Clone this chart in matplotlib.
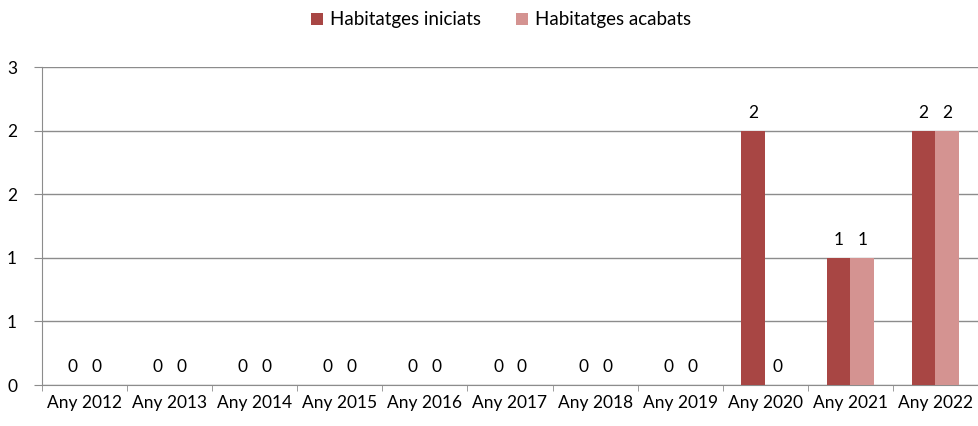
import matplotlib
matplotlib.use("Agg")
import matplotlib.pyplot as plt
import numpy as np
from matplotlib.ticker import FuncFormatter

plt.rcParams['font.family'] = ['Lato', 'DejaVu Sans']

# Data
years = ['Any 2012', 'Any 2013', 'Any 2014', 'Any 2015', 'Any 2016', 'Any 2017',
         'Any 2018', 'Any 2019', 'Any 2020', 'Any 2021', 'Any 2022']
iniciats = [0, 0, 0, 0, 0, 0, 0, 0, 2, 1, 2]
acabats = [0, 0, 0, 0, 0, 0, 0, 0, 0, 1, 2]
series_names = ['Habitatges iniciats', 'Habitatges acabats']
colors = ['#A84644', '#D49391']

x = np.arange(len(years))
width = 0.28
fs = 12.5

fig = plt.figure(figsize=(9.79, 4.26), dpi=100)
ax = fig.add_axes([42 / 979, 1 - 385 / 426, (978 - 42) / 979, (385 - 67) / 426])

b1 = ax.bar(x - width / 2, iniciats, width, color=colors[0], label=series_names[0], zorder=3)
b2 = ax.bar(x + width / 2, acabats, width, color=colors[1], label=series_names[1], zorder=3)

for bars in (b1, b2):
    for rect in bars:
        h = rect.get_height()
        ax.annotate(f'{h:.0f}', (rect.get_x() + rect.get_width() / 2, h),
                    xytext=(0, 7), textcoords='offset points',
                    ha='center', va='bottom', fontsize=fs)

ax.set_xlim(-0.5, len(years) - 0.5)
ax.set_ylim(0, 2.5)
ax.set_yticks([0, 0.5, 1, 1.5, 2, 2.5])
# Excel-style rounding of the tick labels
ax.yaxis.set_major_formatter(FuncFormatter(lambda v, p: f'{int(np.floor(v + 0.5))}'))
ax.grid(axis='y', color='#8c8c8c', linewidth=1, zorder=0)

ax.set_xticks(x)
ax.set_xticklabels(years, fontsize=fs)
ax.set_xticks(np.arange(-0.5, len(years)), minor=True)
ax.tick_params(axis='x', which='major', length=0, pad=7)
ax.tick_params(axis='x', which='minor', length=4, color='#8c8c8c')
ax.tick_params(axis='y', length=6, color='#8c8c8c', labelsize=fs, pad=12)

for s in ('top', 'right'):
    ax.spines[s].set_visible(False)
for s in ('left', 'bottom'):
    ax.spines[s].set_color('#8c8c8c')

fig.legend(handles=[b1, b2], loc='center', bbox_to_anchor=(501 / 979, 1 - 20 / 426),
           ncol=2, frameon=False, fontsize=13.5, handlelength=0.65, handleheight=0.65,
           handletextpad=0.35, columnspacing=1.9)

fig.savefig('out.png', dpi=100)
